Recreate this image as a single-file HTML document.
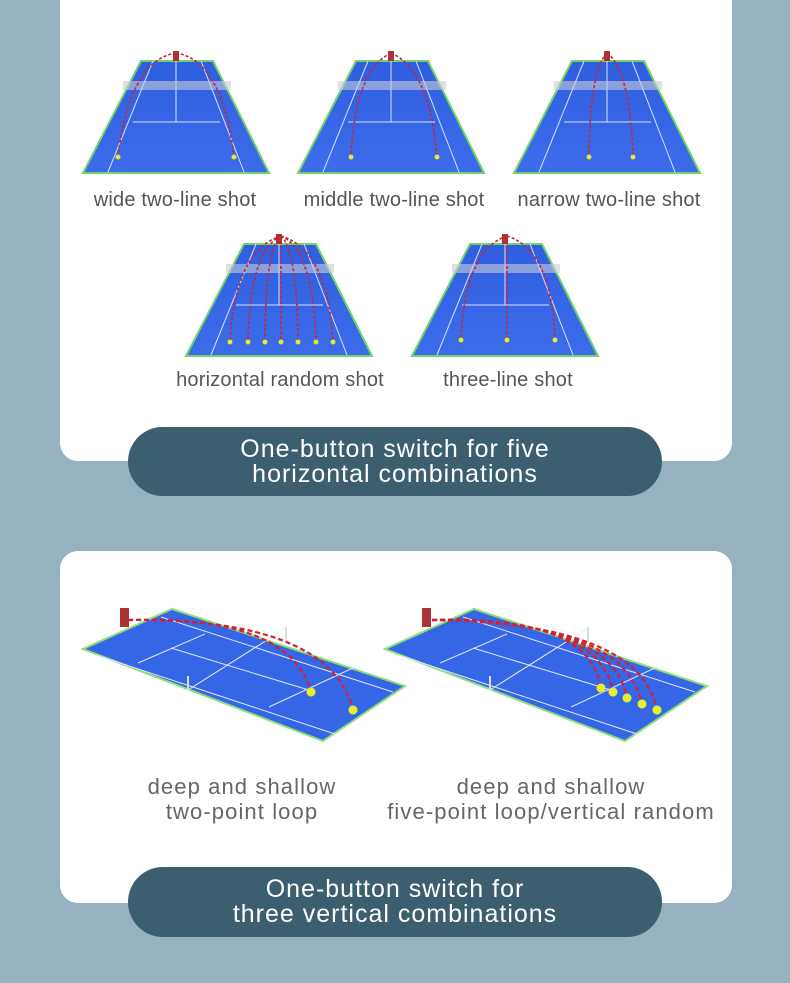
<!DOCTYPE html>
<html><head><meta charset="utf-8"><style>
body{margin:0;width:790px;height:983px;background:#96b2be;overflow:hidden;font-family:"Liberation Sans",sans-serif}
.card{position:absolute;left:60px;width:672px;background:#fff;border-radius:18px}
.pill{position:absolute;left:128px;width:534px;background:#3b5f6f;border-radius:35px;color:#fff;text-align:center;font-size:25px;letter-spacing:1px;line-height:25px;box-sizing:border-box;padding-top:10px}
.lbl{position:absolute;font-size:20px;color:#555;text-align:center;white-space:nowrap;letter-spacing:0.2px}
.lbl2{position:absolute;font-size:22px;color:#666;text-align:center;line-height:25px;white-space:nowrap;letter-spacing:1.1px}
svg{position:absolute;left:0;top:0}
</style></head><body>
<div class="card" style="top:-20px;height:481px"></div>
<div class="card" style="top:551px;height:352px"></div>
<svg width="790" height="983">
<defs>
<linearGradient id="cg" x1="0" y1="0" x2="0" y2="1"><stop offset="0" stop-color="#2f5fe0"/><stop offset="1" stop-color="#3c6cea"/></linearGradient>
<g id="court">
<polygon points="58,0 130,0 186,112 0,112" fill="url(#cg)" stroke="#6fd36a" stroke-width="2"/>
<g stroke="#d8e0ff" stroke-width="1" fill="none">
<line x1="70" y1="0" x2="25" y2="111"/><line x1="118" y1="0" x2="161" y2="111"/>
<line x1="93" y1="0" x2="93" y2="61"/><line x1="50" y1="61" x2="137" y2="61"/>
</g>
<rect x="40" y="20" width="108" height="9" fill="#c8cbd8" opacity="0.6"/>
<rect x="90" y="-10" width="6" height="10" fill="#a33"/>
</g>
<g id="pcourt">
<polygon points="83,649 172,609 405,686 323,741" fill="#3566e6" stroke="#8ede7a" stroke-width="2"/>
<g stroke="#dfe6ff" stroke-width="1" fill="none">
<line x1="96" y1="655" x2="335" y2="734"/><line x1="161" y1="617" x2="393" y2="692"/>
<line x1="138" y1="663" x2="205" y2="634"/><line x1="269" y1="707" x2="355" y2="667"/>
<line x1="171" y1="648" x2="312" y2="691"/>
<line x1="188" y1="690" x2="286" y2="628" stroke="#eee"/>
<line x1="188" y1="690" x2="188" y2="676" stroke="#ddd" stroke-width="2"/>
<line x1="286" y1="642" x2="286" y2="627" stroke="#ddd" stroke-width="2"/>
</g>
<rect x="120" y="608" width="9" height="19" fill="#a33"/>
</g>
</defs>
<use href="#court" x="83" y="61"/>
<use href="#court" x="298" y="61"/>
<use href="#court" x="514" y="61"/>
<use href="#court" x="186" y="244"/>
<use href="#court" x="412" y="244"/>
<g fill="none" stroke="#c0283a" stroke-width="1.6" stroke-dasharray="3,2">
<path d="M176 53 Q130 60 118 157"/><path d="M176 53 Q222 60 234 157"/>
<path d="M391 53 Q355 70 351 157"/><path d="M391 53 Q430 70 437 157"/>
<path d="M607 53 Q590 70 589 157"/><path d="M607 53 Q630 70 633 157"/>
<path d="M281 236 Q235 250 230 342"/><path d="M281 236 Q250 250 248 342"/><path d="M281 236 Q265 250 265 342"/><path d="M281 236 Q281 250 281 342"/><path d="M281 236 Q297 250 298 342"/><path d="M281 236 Q313 250 316 342"/><path d="M281 236 Q328 250 333 342"/>
<path d="M507 236 Q465 250 461 340"/><path d="M507 236 L507 340"/><path d="M507 236 Q552 250 555 340"/>
</g>
<g fill="#e3ef2a" stroke="#999" stroke-width="0.5">
<circle cx="118" cy="157" r="2.5"/><circle cx="234" cy="157" r="2.5"/>
<circle cx="351" cy="157" r="2.5"/><circle cx="437" cy="157" r="2.5"/>
<circle cx="589" cy="157" r="2.5"/><circle cx="633" cy="157" r="2.5"/>
<circle cx="230" cy="342" r="2.5"/><circle cx="248" cy="342" r="2.5"/><circle cx="265" cy="342" r="2.5"/><circle cx="281" cy="342" r="2.5"/><circle cx="298" cy="342" r="2.5"/><circle cx="316" cy="342" r="2.5"/><circle cx="333" cy="342" r="2.5"/>
<circle cx="461" cy="340" r="2.5"/><circle cx="507" cy="340" r="2.5"/><circle cx="555" cy="340" r="2.5"/>
</g>
<use href="#pcourt"/>
<use href="#pcourt" x="302"/>
<g fill="none" stroke="#d42030" stroke-width="2.2" stroke-dasharray="5,3">
<path d="M128 620 Q290 615 311 692"/><path d="M128 620 Q330 618 353 710"/>
<path d="M432 620 Q590 615 601 688"/><path d="M432 620 Q600 617 613 692"/><path d="M432 620 Q612 619 627 698"/><path d="M432 620 Q625 621 642 704"/><path d="M432 620 Q640 623 657 710"/>
</g>
<g fill="#e6f02a" stroke="#aa9" stroke-width="0.5">
<circle cx="311" cy="692" r="4.5"/><circle cx="353" cy="710" r="4.5"/>
<circle cx="601" cy="688" r="4.5"/><circle cx="613" cy="692" r="4.5"/><circle cx="627" cy="698" r="4.5"/><circle cx="642" cy="704" r="4.5"/><circle cx="657" cy="710" r="4.5"/>
</g>
</svg>
<div class="lbl" style="left:75px;width:200px;top:189px">wide two-line shot</div>
<div class="lbl" style="left:294px;width:200px;top:189px">middle two-line shot</div>
<div class="lbl" style="left:509px;width:200px;top:189px">narrow two-line shot</div>
<div class="lbl" style="left:170px;width:220px;top:369px">horizontal random shot</div>
<div class="lbl" style="left:408px;width:200px;top:369px">three-line shot</div>
<div class="lbl2" style="left:132px;width:220px;top:774px">deep and shallow<br>two-point loop</div>
<div class="lbl2" style="left:371px;width:360px;top:774px">deep and shallow<br>five-point loop/vertical random</div>
<div class="pill" style="top:427px;height:69px">One-button switch for five<br>horizontal combinations</div>
<div class="pill" style="top:867px;height:70px">One-button switch for<br>three vertical combinations</div>
</body></html>
